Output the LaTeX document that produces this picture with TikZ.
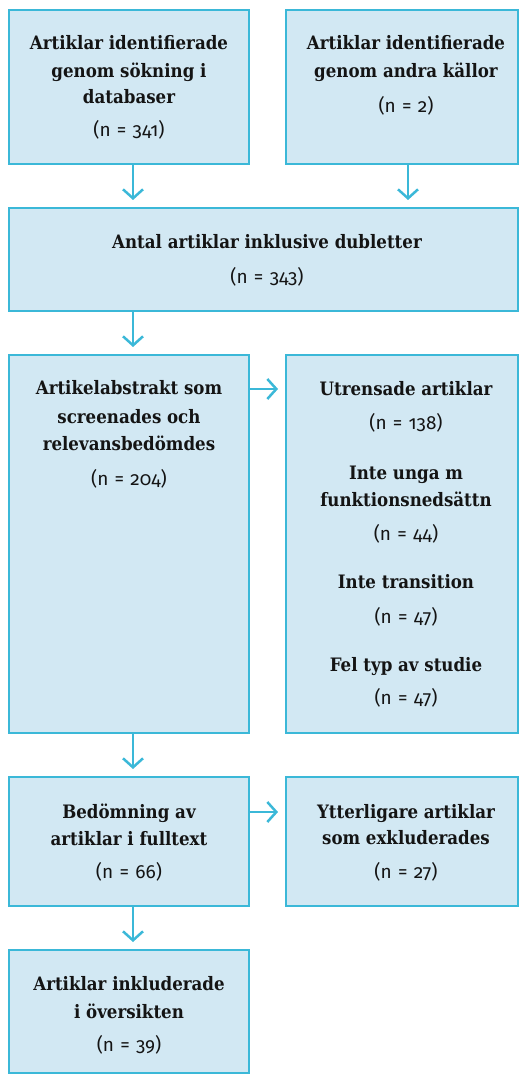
\documentclass[tikz,border=0pt]{standalone}
\usepackage{fontspec}
\usetikzlibrary{arrows.meta}
\newfontfamily\hdfont{DejaVuSerifCondensed-Bold.ttf}
\newfontfamily\cntfont{Fira Sans}[Numbers=OldStyle]
\definecolor{boxfill}{RGB}{210,232,243}
\definecolor{boxline}{RGB}{59,184,216}
\definecolor{txt}{RGB}{20,20,20}
\tikzset{
  box/.style={draw=boxline, fill=boxfill, line width=1.5pt, anchor=north west, inner sep=0pt, outer sep=0pt},
  hd/.style={font=\hdfont\fontsize{18.5}{18.5}\selectfont, text=txt, anchor=base, inner sep=0pt},
  cnt/.style={font=\cntfont\fontsize{19}{19}\selectfont, text=txt, anchor=base, inner sep=0pt},
  arr/.style={draw=boxline, line width=2.5pt, -{Straight Barb[length=9pt,width=20pt,line width=2.5pt]}, shorten >=8pt}
}
\newcommand\nn[1]{(n\hspace{0.33em}=\hspace{0.33em}#1)}
\begin{document}
\begin{tikzpicture}[x=1pt,y=-1pt]
\useasboundingbox (0,0) rectangle (519,1075);
% boxes
\node[box, minimum width=240pt, minimum height=154pt] (b1) at (9,10) {};
\node[box, minimum width=232pt, minimum height=154pt] (b2) at (286,10) {};
\node[box, minimum width=509pt, minimum height=103pt] (b3) at (9,208) {};
\node[box, minimum width=240pt, minimum height=378pt] (b4) at (9,355) {};
\node[box, minimum width=232pt, minimum height=378pt] (b4r) at (286,355) {};
\node[box, minimum width=240pt, minimum height=129pt] (b5) at (9,777) {};
\node[box, minimum width=232pt, minimum height=129pt] (b5r) at (286,777) {};
\node[box, minimum width=240pt, minimum height=123pt] (b6) at (9,950) {};
% texts
\node[hd] (t1a) at (129,50) {Artiklar identifierade};
\node[hd] (t1b) at (129,78) {genom sökning i};
\node[hd] (t1c) at (129,104) {databaser};
\node[cnt] (n1) at (129,137) {\nn{341}};
\node[hd] (t2a) at (406,50) {Artiklar identifierade};
\node[hd] (t2b) at (406,78) {genom andra källor};
\node[cnt] (n2) at (406,113) {\nn{2}};
\node[hd] (t3a) at (267,248) {Antal artiklar inklusive dubletter};
\node[cnt] (n3) at (267,283) {\nn{343}};
\node[hd] (t4a) at (129,394) {Artikelabstrakt som};
\node[hd] (t4b) at (129,423) {screenades och};
\node[hd] (t4c) at (129,450) {relevansbedömdes};
\node[cnt] (n4) at (129,485) {\nn{204}};
\node[hd] (r1) at (406,395) {Utrensade artiklar};
\node[cnt] (rn1) at (406,429) {\nn{138}};
\node[hd] (r2a) at (406,479) {Inte unga m};
\node[hd] (r2b) at (406,506) {funktionsnedsättn};
\node[cnt] (rn2) at (406,540) {\nn{44}};
\node[hd] (r3) at (406,588) {Inte transition};
\node[cnt] (rn3) at (406,623) {\nn{47}};
\node[hd] (r4) at (406,671) {Fel typ av studie};
\node[cnt] (rn4) at (406,704) {\nn{47}};
\node[hd] (t5a) at (129,818) {Bedömning av};
\node[hd] (t5b) at (129,845) {artiklar i fulltext};
\node[cnt] (n5) at (129,878) {\nn{66}};
\node[hd] (t5ra) at (406,818) {Ytterligare artiklar};
\node[hd] (t5rb) at (406,844) {som exkluderades};
\node[cnt] (n5r) at (406,878) {\nn{27}};
\node[hd] (t6a) at (129,990) {Artiklar inkluderade};
\node[hd] (t6b) at (129,1018) {i översikten};
\node[cnt] (n6) at (129,1051) {\nn{39}};
% arrows
\draw[arr] ([xshift=4pt]b1.south) -- ([xshift=4pt]b1.south |- b3.north);
\draw[arr] ([xshift=6pt]b2.south) -- ([xshift=6pt]b2.south |- b3.north);
\draw[arr] (b1.south |- b3.south) ++(4,0) coordinate (a3s) -- (a3s |- b4.north);
\draw[arr] (b4.east |- 0,389) coordinate (a4s) -- (a4s -| b4r.west);
\draw[arr] ([xshift=4pt]b4.south) -- ([xshift=4pt]b4.south |- b5.north);
\draw[arr] (b5.east) ++(0,-29.5) coordinate (a5s) -- (a5s -| b5r.west);
\draw[arr] ([xshift=4pt]b5.south) -- ([xshift=4pt]b5.south |- b6.north);
\end{tikzpicture}
\end{document}
